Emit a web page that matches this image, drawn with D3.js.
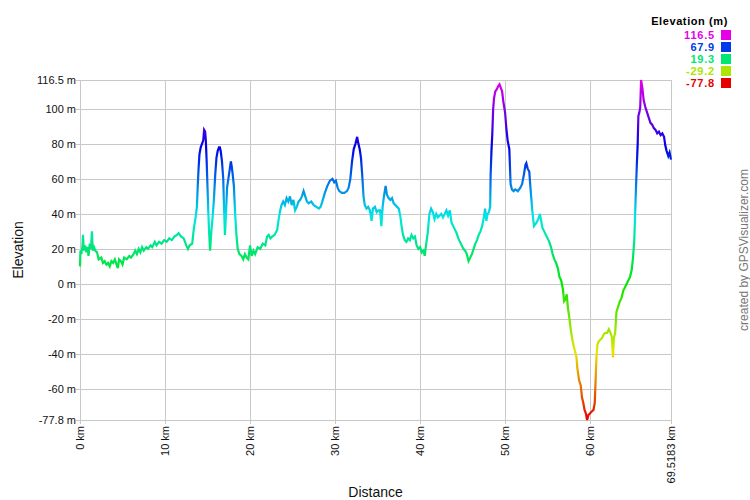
<!DOCTYPE html>
<html><head><meta charset="utf-8">
<script src="https://cdn.jsdelivr.net/npm/d3@7"></script>
<style>body{margin:0;background:#fff}svg{display:block}text{font-family:"Liberation Sans",Arial,sans-serif}</style>
</head><body>
<script>
const distanceKm = [0.0,0.05,0.15,0.3,0.35,0.45,0.6,0.75,0.9,1.0,1.15,1.3,1.4,1.5,1.65,1.8,2.0,2.2,2.5,2.7,2.9,3.1,3.3,3.5,3.7,3.9,4.1,4.3,4.45,4.6,4.8,5.0,5.2,5.5,5.8,6.0,6.3,6.5,6.7,6.9,7.1,7.3,7.5,7.8,8.0,8.3,8.5,8.8,9.0,9.3,9.6,9.9,10.2,10.5,10.8,11.1,11.4,11.6,11.9,12.2,12.5,12.7,12.9,13.2,13.4,13.6,13.75,13.85,13.95,14.05,14.2,14.35,14.5,14.6,14.72,14.8,14.9,15.0,15.1,15.2,15.3,15.45,15.6,15.75,15.9,16.05,16.2,16.35,16.45,16.55,16.7,16.85,16.95,17.05,17.15,17.3,17.45,17.6,17.75,17.85,17.95,18.1,18.25,18.4,18.55,18.75,19.0,19.2,19.4,19.6,19.8,20.0,20.2,20.4,20.6,20.9,21.2,21.5,21.8,22.0,22.2,22.4,22.6,22.9,23.2,23.4,23.55,23.7,23.9,24.1,24.3,24.5,24.7,24.9,25.1,25.3,25.5,25.7,25.9,26.1,26.3,26.5,26.7,26.9,27.2,27.5,27.8,28.1,28.3,28.5,28.8,29.1,29.4,29.7,29.9,30.1,30.3,30.5,30.8,31.1,31.4,31.6,31.8,32.0,32.2,32.4,32.6,32.75,32.9,33.05,33.2,33.35,33.5,33.7,33.9,34.1,34.3,34.45,34.7,34.9,35.1,35.3,35.45,35.6,35.75,35.95,36.1,36.3,36.5,36.7,36.9,37.1,37.3,37.5,37.7,37.85,38.0,38.2,38.4,38.6,38.8,39.0,39.2,39.4,39.6,39.8,40.0,40.2,40.4,40.55,40.7,40.9,41.1,41.3,41.5,41.7,41.9,42.1,42.3,42.5,42.7,42.9,43.1,43.3,43.5,43.7,43.9,44.1,44.3,44.5,44.7,44.9,45.1,45.3,45.5,45.7,45.9,46.1,46.3,46.5,46.7,46.9,47.1,47.3,47.5,47.65,47.8,47.95,48.1,48.25,48.3,48.4,48.5,48.6,48.7,48.85,49.0,49.2,49.35,49.5,49.65,49.8,50.0,50.15,50.3,50.5,50.65,50.8,51.0,51.2,51.5,51.8,52.0,52.2,52.4,52.5,52.65,52.85,53.0,53.2,53.4,53.55,53.7,53.9,54.1,54.25,54.4,54.6,54.8,55.0,55.2,55.4,55.6,55.8,56.0,56.2,56.4,56.6,56.8,56.95,57.1,57.25,57.4,57.55,57.7,57.85,58.0,58.2,58.4,58.5,58.7,58.9,59.05,59.2,59.35,59.5,59.65,59.8,60.0,60.2,60.4,60.55,60.65,60.75,60.85,61.0,61.2,61.4,61.6,61.8,62.0,62.2,62.4,62.55,62.7,62.8,62.95,63.1,63.3,63.5,63.7,63.9,64.1,64.3,64.5,64.7,64.9,65.05,65.2,65.3,65.4,65.5,65.6,65.68,65.8,65.9,66.0,66.15,66.3,66.5,66.7,66.9,67.1,67.3,67.5,67.7,67.9,68.1,68.3,68.5,68.7,68.85,69.0,69.2,69.35,69.5183];
const elevationM = [10,19,17,22,28,19,22,18,21,16,23,20,30,19,21,19,18,14,15,12,13,11,12,10,13,12,14,11,9,14,13,11,15,14,16,15,17,19,17,20,18,21,19,21,20,22,21,24,22,24,23,25,24,26,25,27,28,29,27,26,22,20,22,23,32,38,44,56,66,74,78,80,82,88,87,82,70,55,40,28,19,30,38,48,62,72,76,78,78,76,70,60,42,28,38,55,60,65,70,67,63,56,40,28,20,17,16,14,17,15,14,22,16,19,17,21,20,23,22,27,28,26,27,28,31,38,42,45,47,45,49,47,50,45,48,42,44,47,48,50,53,50,47,46,47,45,44,43,44,47,52,56,59,60,58,59,55,53,52,52,53,55,60,70,77,80,84,80,77,72,62,50,45,43,44,42,36,43,44,41,42,42,33,44,50,56,51,49,48,49,46,45,44,43,38,32,28,25,24,26,25,28,26,27,22,20,21,18,19,16,22,29,40,43,41,37,40,38,39,40,38,40,42,39,42,35,33,31,29,26,24,22,20,19,17,13,15,17,20,23,25,28,30,33,38,43,36,40,41,44,62,76,86,100,106,110,111,113,114,112,110,104,98,89,82,77,57,54,53,54,53,55,57,62,68,69,66,64,54,42,33,34,35,37,40,36,32,30,28,26,24,21,17,14,12,9,4,2,-3,-10,-9,-6,-14,-19,-25,-30,-34,-38,-42,-48,-55,-58,-65,-68,-72,-74,-77.8,-75,-74,-73,-72,-68,-55,-42,-35,-33,-32,-31,-29,-28,-28,-26,-28,-30,-42,-31,-28,-16,-13,-10,-8,-4,-2,0,2,4,8,15,25,40,55,68,80,96,98,101,116.5,112,105,101,98,95,92,91,89,88,86,87,85,86,84,79,76,73,75,71];
const yTickValues = [-77.8,-60,-40,-20,0,20,40,60,80,100,116.5];
const xTickValues = [0,10,20,30,40,50,60,69.5183];
const legendValues = [116.5,67.9,19.3,-29.2,-77.8];

const W=750,H=500, L=80, R=671, T=80, B=420;
const minE=-77.8, maxE=116.5;
const svg=d3.select("body").append("svg").attr("width",W).attr("height",H);
const x=d3.scaleLinear().domain([0,69.5183]).range([L,R]);
const y=d3.scaleLinear().domain([minE,maxE]).range([B,T]);
const color=v=>d3.hsl(300*(v-minE)/(maxE-minE),1,0.45).toString();

// grid
const g=svg.append("g");
g.selectAll("line.h").data(yTickValues).join("line")
 .attr("x1",L-4).attr("x2",R).attr("y1",d=>Math.round(y(d))+0.5).attr("y2",d=>Math.round(y(d))+0.5)
 .attr("stroke","#c8c8c8").attr("stroke-width",1);
g.selectAll("line.v").data(xTickValues).join("line")
 .attr("y1",T).attr("y2",B+4).attr("x1",d=>Math.round(x(d))+0.5).attr("x2",d=>Math.round(x(d))+0.5)
 .attr("stroke","#c8c8c8").attr("stroke-width",1);

// y labels
svg.selectAll("text.yl").data(yTickValues).join("text")
 .attr("x",L-4).attr("y",d=>y(d)).attr("dy","0.35em").attr("text-anchor","end")
 .attr("font-size",11).attr("fill","#111").text(d=>d+" m");
// x labels
svg.selectAll("text.xl").data(xTickValues).join("text")
 .attr("transform",d=>`translate(${x(d)+0.5},${B+6}) rotate(-90)`)
 .attr("dy","0.35em").attr("text-anchor","end")
 .attr("font-size",11).attr("fill","#111").text(d=>d+" km");

// gradient
const defs=svg.append("defs");
const grad=defs.append("linearGradient").attr("id","eg").attr("gradientUnits","userSpaceOnUse")
 .attr("x1",0).attr("x2",0).attr("y1",y(maxE)).attr("y2",y(minE));
d3.range(0,1.0001,0.02).forEach(t=>{
  grad.append("stop").attr("offset",t).attr("stop-color",color(maxE-t*(maxE-minE)));
});
const pts=distanceKm.map((d,i)=>[d,elevationM[i]]);
svg.append("path").datum(pts)
 .attr("d",d3.line().x(d=>x(d[0])).y(d=>y(d[1])))
 .attr("fill","none").attr("stroke","url(#eg)").attr("stroke-width",2.2).attr("stroke-linejoin","miter");

// axis titles
svg.append("text").attr("transform",`translate(23,${(T+B)/2}) rotate(-90)`).attr("text-anchor","middle")
 .attr("font-size",14).attr("fill","#111").text("Elevation");
svg.append("text").attr("x",(L+R)/2).attr("y",497).attr("text-anchor","middle")
 .attr("font-size",14).attr("fill","#111").text("Distance");

// watermark
svg.append("text").attr("transform",`translate(748,250) rotate(-90)`).attr("text-anchor","middle")
 .attr("font-size",12).attr("fill","#777").text("created by GPSVisualizer.com");

// legend
svg.append("text").attr("x",728).attr("y",25).attr("text-anchor","end").attr("font-size",11)
 .attr("font-weight","bold").attr("letter-spacing",0.6).attr("fill","#000").text("Elevation (m)");
const lg=svg.selectAll("g.lg").data(legendValues).join("g").attr("transform",(d,i)=>`translate(0,${35+i*12})`);
lg.append("text").attr("x",715).attr("dy","0.35em").attr("text-anchor","end").attr("font-size",11)
 .attr("font-weight","bold").attr("letter-spacing",0.8).attr("fill",d=>color(d)).text(d=>d);
lg.append("rect").attr("x",721).attr("y",-5).attr("width",10).attr("height",10).attr("fill",d=>color(d));
</script>
</body></html>
